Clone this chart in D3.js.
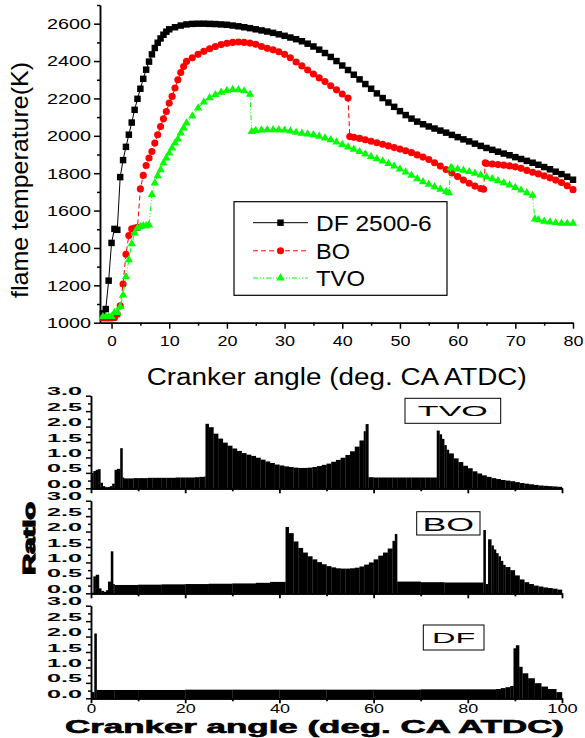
<!DOCTYPE html>
<html>
<head>
<meta charset="utf-8">
<script src="https://cdn.jsdelivr.net/npm/d3@7"></script>
<style>
  body { margin: 0; background: #fff; }
  svg text { font-family: "Liberation Sans", Arial, sans-serif; }
</style>
</head>
<body>
<svg id="chart" width="585" height="738"></svg>
<script>
// Flame temperature vs crank angle (top) and ratio bars for TVO / BO / DF (bottom).

// ---- top panel data (deg CA, K) ----
const dfAngle = [-1.5,-1,-0.5,0,0.5,1,1.5,2,2.5,3,3.5,4,4.5,5,5.5,6,6.5,7,7.5,8,8.5,9,9.5,10,
  11,12,13,14,15,16,17,18,19,20,21,22,23,24,25,26,27,28,29,30,31,32,33,34,35,36,37,38,39,40,
  41,42,43,44,45,46,47,48,49,50,51,52,53,54,55,56,57,58,59,60,61,62,63,64,65,66,67,68,69,70,
  71,72,73,74,75,76,77,78,79,80];
const dfTemp = [1050,1073,1225,1427,1502,1497,1779,1870,1941,2006,2071,2139,2198,2252,2305,2354,2397,2436,2470,2498,2521,2541,2557,2570,
  2581,2590,2596,2599,2600,2600,2599,2598,2596,2594,2590,2586,2581,2576,2570,2564,2558,2551,2543,2535,2526,2517,2506,2493,2478,2461,2443,2422,2400,2376,
  2352,2327,2302,2277,2252,2227,2202,2178,2155,2132,2111,2092,2076,2062,2050,2039,2028,2017,2005,1993,1981,1970,1958,1946,1935,1925,1915,1905,1896,1886,
  1876,1866,1856,1845,1833,1821,1808,1795,1781,1765];

const boAngle = [-1.5,-1,-0.5,0,0.5,1,1.5,2,2.5,3,3.5,4,4.5,5,5.5,6,6.5,7,7.5,8,8.5,9,9.5,10,10.5,11,11.5,12,12.5,13,
  14,15,16,17,18,19,20,21,22,23,24,25,26,27,28,29,30,31,32,33,34,35,36,37,38,39,40,41,
  41.3,42,43,44,45,46,47,48,49,50,51,52,53,54,55,56,57,58,59,60,61,62,63,64,64.5,
  64.8,65,66,67,68,69,70,71,72,73,74,75,76,77,78,79,80];
const boTemp = [1025,1025,1025,1025,1027,1045,1090,1207,1366,1466,1502,1506,1510,1716,1788,1841,1881,1916,1961,2006,2050,2091,2130,2175,2211,2256,2300,2339,2371,2398,
  2418,2436,2452,2466,2478,2488,2495,2500,2502,2500,2496,2490,2478,2468,2460,2450,2436,2418,2395,2374,2352,2331,2310,2290,2268,2246,2224,2202,
  1996,1992,1986,1979,1971,1963,1955,1946,1937,1929,1920,1910,1898,1886,1873,1856,1838,1820,1801,1782,1763,1746,1731,1718,1714,
  1855,1852,1849,1846,1843,1839,1834,1826,1815,1805,1796,1786,1775,1763,1750,1733,1712];

const tvoAngle = [-1.5,-1,-0.5,0,0.5,1,1.5,2,2.5,3,3.5,4,4.5,5,5.5,6,6.5,7,7.5,8,8.5,9,9.5,10,10.5,11,11.5,12,12.5,13,
  14,15,16,17,18,19,20,21,22,23,24,
  24.3,25,26,27,28,29,30,31,32,33,34,35,36,37,38,39,40,41,42,43,44,45,46,47,48,49,50,51,52,53,54,55,56,57,58,58.5,
  58.8,59,60,61,62,63,64,65,66,67,68,69,70,71,72,73,
  73.4,74,75,76,77,78,79,80];
const tvoTemp = [1032,1032,1032,1032,1054,1054,1086,1148,1246,1336,1422,1479,1506,1514,1518,1518,1522,1686,1747,1786,1818,1854,1881,1907,1934,1961,1982,2015,2041,2068,
  2105,2148,2180,2203,2220,2233,2242,2247,2246,2240,2222,
  2023,2028,2031,2032,2032,2032,2030,2025,2018,2013,2009,2005,1997,1988,1978,1966,1953,1940,1928,1915,1902,1889,1877,1865,1852,1838,1822,1806,1788,1770,1754,1740,1727,1714,1702,1695,
  1828,1827,1822,1815,1808,1799,1790,1780,1770,1759,1748,1736,1723,1709,1695,1681,
  1554,1550,1543,1538,1535,1532,1531,1532];

const legendNames = ['DF 2500-6', 'BO', 'TVO'];
const tempTicks = [1000,1200,1400,1600,1800,2000,2200,2400,2600];
const angleTicks = [0,10,20,30,40,50,60,70,80];

// ---- bottom panels data (bar start angle, ratio) ----
const tvoBarAngle = [0,0.5,1,1.5,2,2.5,3,3.5,4,4.5,5,5.5,6.2,6.7,7,
  8,9,10,11,12,13,14,15,16,17,18,19,20,21,22,23,24,
  24.3,25,26,27,28,29,30,31,32,33,34,35,36,37,38,39,40,41,42,43,44,45,46,47,48,49,50,51,52,53,54,55,56,57,57.9,58.3,58.9,
  60,61,62,63,64,65,66,67,68,69,70,71,72,73,
  73.4,74,74.5,75,75.5,76,77,78,79,80,81,82,83,84,85,86,87,88,89,90,91,92,93,94,95,96,97,98,99];
const tvoRatio = [0.5,0.56,0.6,0.62,0.18,0.07,0.04,0.04,0.07,0.15,0.6,0.63,1.3,0.35,0.32,
  0.32,0.33,0.33,0.33,0.34,0.34,0.34,0.34,0.34,0.34,0.35,0.35,0.35,0.35,0.36,0.37,0.38,
  2.09,1.98,1.77,1.61,1.48,1.38,1.29,1.21,1.14,1.09,1.05,0.99,0.93,0.87,0.82,0.77,0.74,0.71,0.69,0.67,0.66,0.66,0.67,0.69,0.72,0.76,0.8,0.86,0.92,0.99,1.08,1.2,1.35,1.55,1.85,2.08,0.36,
  0.35,0.35,0.35,0.35,0.35,0.35,0.35,0.35,0.35,0.35,0.35,0.35,0.35,0.35,
  1.87,1.75,1.6,1.4,1.25,1.13,0.97,0.85,0.73,0.65,0.55,0.48,0.42,0.37,0.33,0.3,0.27,0.25,0.23,0.2,0.17,0.15,0.13,0.11,0.09,0.08,0.07,0.06,0.05];

const boBarAngle = [0,0.5,1,1.5,1.7,2.2,2.7,3.2,3.6,4.2,4.7,5,10,15,20,25,30,35,38,
  41.3,42,43,44,45,46,47,48,49,50,51,52,53,54,55,56,57,58,59,60,61,62,63,64,64.5,
  65,70,75,80,83.3,83.8,84.3,85,85.5,86,86.5,87,87.5,88,89,90,91,92,93,94,95,96,97,98,99];
const boRatio = [0.02,0.55,0.6,0.6,0.16,0.08,0.05,0.1,0.38,1.36,0.3,0.27,0.28,0.29,0.3,0.31,0.32,0.34,0.37,
  2.15,1.95,1.68,1.47,1.32,1.2,1.1,1.01,0.94,0.88,0.84,0.81,0.8,0.8,0.81,0.83,0.87,0.93,1.0,1.1,1.22,1.32,1.45,1.7,1.92,
  0.38,0.36,0.35,0.35,2.05,0.3,1.75,1.55,1.42,1.3,1.2,1.05,0.92,0.85,0.75,0.58,0.45,0.36,0.3,0.25,0.22,0.19,0.17,0.15,0.12];

const dfBarAngle = [0,0.7,1.2,5,10,20,30,40,50,60,70,80,86,87,88,89,89.7,90.2,90.9,91.6,92.8,94.2,95.6,97,98.8];
const dfRatio = [0.2,2.1,0.27,0.27,0.27,0.28,0.28,0.28,0.28,0.28,0.29,0.29,0.3,0.33,0.36,0.4,1.62,1.72,1.02,0.81,0.65,0.49,0.38,0.3,0.2];

const panelNames = ['TVO', 'BO', 'DF'];
const ratioTicks = [0,0.5,1,1.5,2,2.5,3];
const barAngleTicks = [0,20,40,60,80,100];

const svg = d3.select('#chart');

// ================= top chart =================
const x = d3.scaleLinear().domain([-2, 80]).range([100, 573]);
const y = d3.scaleLinear().domain([1000, 2700]).range([322.7, 5]);

function styleAxis(g, w) {
  g.selectAll('.domain').attr('stroke', '#000').attr('stroke-width', w);
  g.selectAll('.tick line').attr('stroke', '#000').attr('stroke-width', w);
}

const yMajor = svg.append('g').attr('transform', 'translate(100,0)')
  .call(d3.axisLeft(y).tickValues(tempTicks).tickSize(6).tickSizeOuter(0).tickPadding(3).tickFormat(d3.format('d')));
const yMinor = svg.append('g').attr('transform', 'translate(100,0)')
  .call(d3.axisLeft(y).tickValues([1100,1300,1500,1700,1900,2100,2300,2500,2700]).tickSize(3).tickSizeOuter(0).tickFormat(''));
yMajor.selectAll('text').attr('font-size', 15).attr('fill', '#000')
  .attr('textLength', 44).attr('lengthAdjust', 'spacingAndGlyphs');
styleAxis(yMajor, 1.5); styleAxis(yMinor, 1.5);

const xMajor = svg.append('g').attr('transform', 'translate(0,322.7)')
  .call(d3.axisBottom(x).tickValues(angleTicks).tickSize(6).tickSizeOuter(0).tickPadding(7).tickFormat(d3.format('d')));
const xMinor = svg.append('g').attr('transform', 'translate(0,322.7)')
  .call(d3.axisBottom(x).tickValues([5,15,25,35,45,55,65,75]).tickSize(3).tickSizeOuter(0).tickFormat(''));
xMajor.selectAll('text').attr('font-size', 15).attr('fill', '#000')
  .attr('textLength', (d) => String(d).length * 10.5 - 1).attr('lengthAdjust', 'spacingAndGlyphs');
styleAxis(xMajor, 1.5); styleAxis(xMinor, 1.5);

svg.append('text').attr('transform', 'translate(28,180) rotate(-90)')
  .attr('text-anchor', 'middle').attr('font-size', 24)
  .attr('textLength', 236).attr('lengthAdjust', 'spacingAndGlyphs')
  .text('flame temperature(K)');
svg.append('text').attr('x', 336.7).attr('y', 385)
  .attr('text-anchor', 'middle').attr('font-size', 23)
  .attr('textLength', 380).attr('lengthAdjust', 'spacingAndGlyphs')
  .text('Cranker angle (deg. CA ATDC)');

const series = [
  { name: legendNames[0], angle: dfAngle, temp: dfTemp, color: '#000000', dash: null, symbol: d3.symbolSquare, size: 42 },
  { name: legendNames[1], angle: boAngle, temp: boTemp, color: '#ff0000', dash: '5,3', symbol: d3.symbolCircle, size: 40 },
  { name: legendNames[2], angle: tvoAngle, temp: tvoTemp, color: '#00ff00', dash: '5,2,1,2,1,2', symbol: d3.symbolTriangle, size: 30 }
];

const line = d3.line().x((d) => x(d[0])).y((d) => y(d[1]));

series.forEach((s) => {
  const pts = d3.zip(s.angle, s.temp);
  svg.append('path').datum(pts)
    .attr('d', line).attr('fill', 'none')
    .attr('stroke', s.color).attr('stroke-width', 1)
    .attr('stroke-dasharray', s.dash);
  svg.append('g').selectAll('path').data(pts).enter().append('path')
    .attr('transform', (d) => `translate(${x(d[0])},${y(d[1])})`)
    .attr('d', d3.symbol().type(s.symbol).size(s.size))
    .attr('fill', s.color);
});

// legend
const legend = svg.append('g');
legend.append('rect').attr('x', 234).attr('y', 201.7).attr('width', 213).attr('height', 93.6)
  .attr('fill', '#fff').attr('stroke', '#000').attr('stroke-width', 1.2);
const legendY = [222.7, 250.8, 278];
const legendW = [115.7, 34, 49];
series.forEach((s, i) => {
  legend.append('line').attr('x1', 253).attr('x2', 308).attr('y1', legendY[i]).attr('y2', legendY[i])
    .attr('stroke', s.color).attr('stroke-width', 1).attr('stroke-dasharray', s.dash);
  legend.append('path').attr('transform', `translate(280.5,${legendY[i]})`)
    .attr('d', d3.symbol().type(s.symbol).size(s.size)).attr('fill', s.color);
  legend.append('text').attr('x', 316).attr('y', legendY[i] + 8).attr('font-size', 22)
    .attr('textLength', legendW[i]).attr('lengthAdjust', 'spacingAndGlyphs')
    .text(s.name);
});

// ================= bottom panels =================
const xb = d3.scaleLinear().domain([0, 100]).range([91, 562]);
const panels = [
  { name: panelNames[0], angle: tvoBarAngle, ratio: tvoRatio, zero: 488.3, box: [405, 398.3, 95.7, 25], fs: 15, tl: 70, base: 415.5 },
  { name: panelNames[1], angle: boBarAngle, ratio: boRatio, zero: 593.3, box: [416.7, 511.7, 63.3, 23.3], fs: 18, tl: 51.6, base: 530.5 },
  { name: panelNames[2], angle: dfBarAngle, ratio: dfRatio, zero: 698.3, box: [423.3, 625, 60.7, 25], fs: 14, tl: 43.3, base: 643.3 }
];

panels.forEach((p, pi) => {
  const yb = d3.scaleLinear().domain([0, 3]).range([p.zero, p.zero - 92.6]);
  const bars = p.angle.map((a, i) => ({ a0: a, a1: i + 1 < p.angle.length ? p.angle[i + 1] : 100, v: p.ratio[i] }));

  svg.append('g').selectAll('rect').data(bars).enter().append('rect')
    .attr('x', (d) => xb(d.a0))
    .attr('width', (d) => xb(d.a1) - xb(d.a0) + 0.2)
    .attr('y', (d) => yb(d.v))
    .attr('height', (d) => yb(0) - yb(d.v))
    .attr('fill', '#000');

  // y axis
  const ya = svg.append('g').attr('transform', 'translate(91,0)')
    .call(d3.axisLeft(yb).tickValues(ratioTicks).tickSize(5).tickSizeOuter(0).tickPadding(4).tickFormat(d3.format('.1f')));
  const yaMinor = svg.append('g').attr('transform', 'translate(91,0)')
    .call(d3.axisLeft(yb).tickValues([0.25,0.75,1.25,1.75,2.25,2.75]).tickSize(3).tickSizeOuter(0).tickFormat(''));
  ya.selectAll('text').attr('font-size', 10).attr('font-weight', 'bold').attr('fill', '#000')
    .attr('dy', -1).attr('textLength', 35).attr('lengthAdjust', 'spacingAndGlyphs');
  styleAxis(ya, 1.5); styleAxis(yaMinor, 1.5);

  // x axis
  const xa = svg.append('g').attr('transform', `translate(0,${p.zero})`)
    .call(d3.axisBottom(xb).tickValues(barAngleTicks).tickSize(5).tickSizeOuter(0).tickPadding(1)
      .tickFormat(pi === 2 ? d3.format('d') : ''));
  const xaMinor = svg.append('g').attr('transform', `translate(0,${p.zero})`)
    .call(d3.axisBottom(xb).tickValues([10,30,50,70,90]).tickSize(3).tickSizeOuter(0).tickFormat(''));
  xa.selectAll('text').attr('font-size', 12).attr('fill', '#000')
    .attr('textLength', (d) => String(d).length * 10.5 - 1).attr('lengthAdjust', 'spacingAndGlyphs');
  styleAxis(xa, 1.8); styleAxis(xaMinor, 1.8);

  // label box
  svg.append('rect').attr('x', p.box[0]).attr('y', p.box[1]).attr('width', p.box[2]).attr('height', p.box[3])
    .attr('fill', '#fff').attr('stroke', '#000').attr('stroke-width', 1);
  svg.append('text').attr('x', p.box[0] + p.box[2] / 2).attr('y', p.base)
    .attr('text-anchor', 'middle').attr('font-size', p.fs)
    .attr('textLength', p.tl).attr('lengthAdjust', 'spacingAndGlyphs')
    .text(p.name);
});

svg.append('text').attr('transform', 'translate(35,538.3) rotate(-90)')
  .attr('text-anchor', 'middle').attr('font-size', 16).attr('font-weight', 'bold')
  .attr('stroke', '#000').attr('stroke-width', 1.2)
  .attr('textLength', 73).attr('lengthAdjust', 'spacingAndGlyphs')
  .text('Ratio');
svg.append('text').attr('x', 65).attr('y', 733).attr('font-size', 17.5).attr('font-weight', 'bold')
  .attr('stroke', '#000').attr('stroke-width', 0.6)
  .attr('textLength', 499).attr('lengthAdjust', 'spacingAndGlyphs')
  .text('Cranker angle (deg. CA ATDC)');
</script>
</body>
</html>
